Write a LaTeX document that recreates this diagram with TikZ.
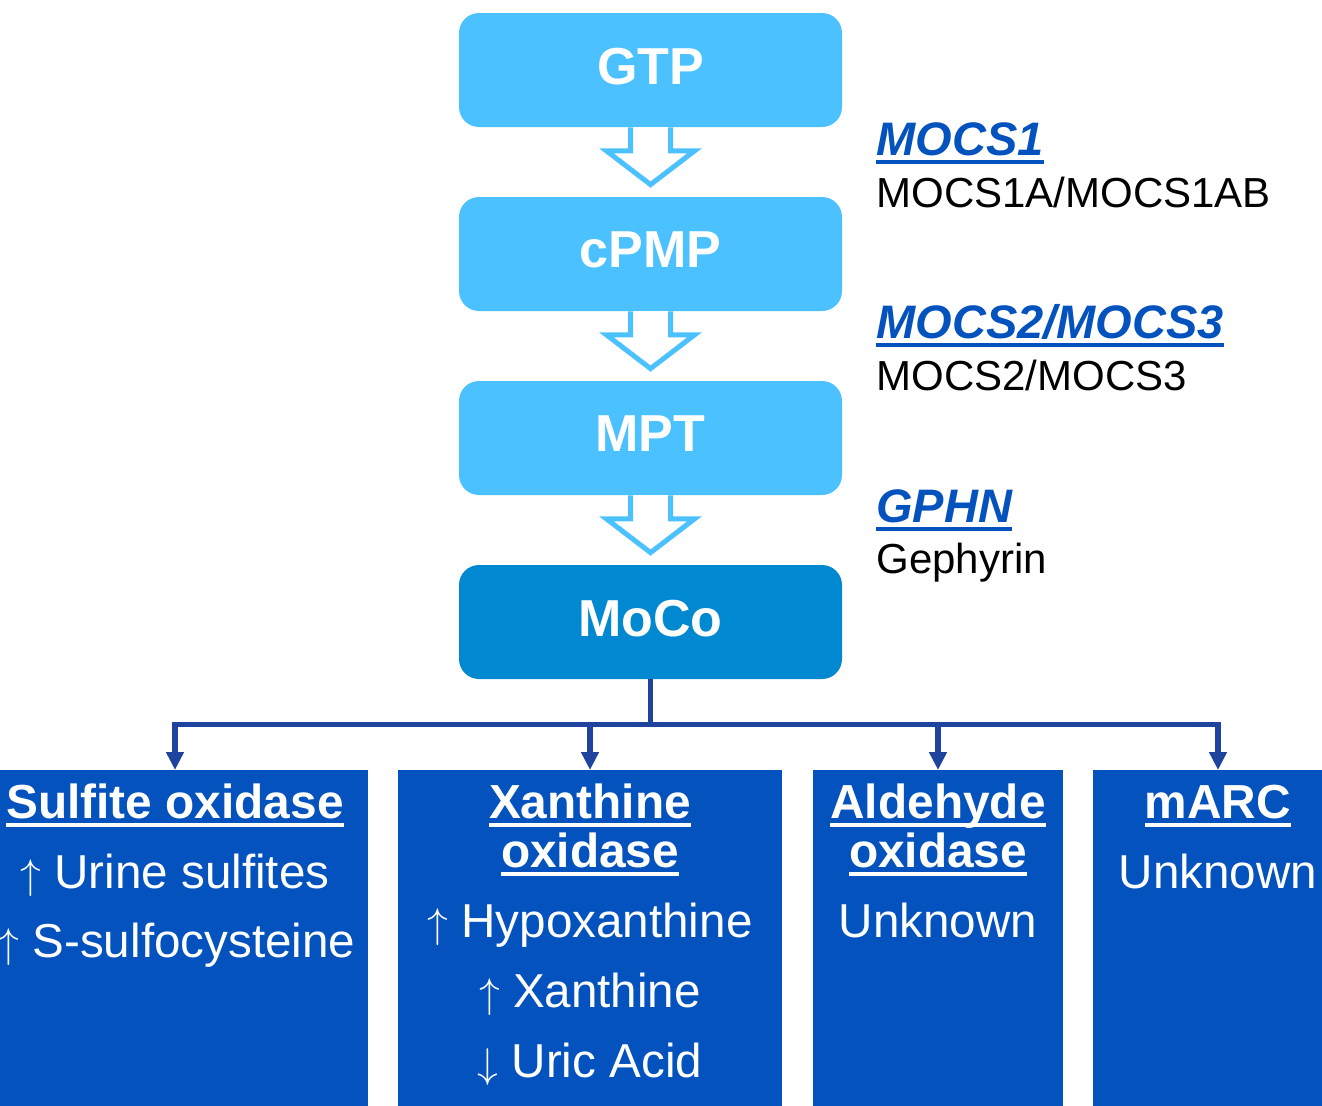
\documentclass[tikz,border=0pt]{standalone}
\usepackage{fontspec}
\setmainfont{Liberation Sans}
\usetikzlibrary{positioning,arrows.meta,calc}

\definecolor{stepblue}{RGB}{75,194,255}
\definecolor{mocoblue}{RGB}{0,137,209}
\definecolor{enzblue}{RGB}{3,82,190}
\definecolor{linkblue}{RGB}{30,68,158}

\newcommand{\undl}[1]{\setbox0\hbox{#1}\makebox[0pt][l]{\raisebox{-4.5pt}{\rule{\wd0}{2pt}}}\box0}
\newcommand{\up}{{\fontsize{20.5}{20.5}\selectfont$\uparrow$}}
\newcommand{\down}{{\fontsize{20.5}{20.5}\selectfont$\downarrow$}}
\newcommand{\hollowarrow}[2]{%
  \filldraw[hollow] ($(#1.south)+(-20,0)$) -- ++(0,23.5) -- ++(-24,0)
    -- ($(#2.north)+(0,-12)$) -- ($(#1.south)+(44,23.5)$) -- ++(-24,0) -- ++(0,-23.5);}

\begin{document}
\begin{tikzpicture}[
  x=0.5pt, y=-0.5pt,
  stepbox/.style={rectangle, rounded corners=10pt, fill=stepblue, text=white, inner sep=0pt,
                  minimum width=191.5pt, minimum height=57pt, text depth=4pt,
                  font=\bfseries\fontsize{26}{31}\selectfont},
  mocobox/.style={stepbox, fill=mocoblue},
  enzbox/.style={rectangle, fill=enzblue, anchor=north, inner sep=0pt, minimum height=170pt},
  enztitle/.style={text=white, anchor=base, inner sep=0pt, font=\bfseries\fontsize{23.9}{24.5}\selectfont},
  enztext/.style={text=white, anchor=base, inner sep=0pt, font=\fontsize{23.8}{24.5}\selectfont},
  gene/.style={anchor=base west, inner sep=0pt, text=enzblue, font=\bfseries\itshape\fontsize{23.5}{23.5}\selectfont},
  protein/.style={anchor=base west, inner sep=0pt, font=\fontsize{21}{21}\selectfont},
  hollow/.style={draw=stepblue, fill=white, line width=2.5pt, line join=miter},
  link/.style={draw=linkblue, line width=2.75pt},
  linkarr/.style={link, -{Triangle[length=9pt,width=8.5pt]}}
]
\useasboundingbox (0,0) rectangle (1322,1105);
\clip (0,0) rectangle (1322,1105);

\node[stepbox] (gtp)  at (650.5,70)  {GTP};
\node[stepbox] (cpmp) at (650.5,254) {cPMP};
\node[stepbox] (mpt)  at (650.5,438) {MPT};
\node[mocobox] (moco) at (650.5,622) {MoCo};

\hollowarrow{gtp}{cpmp}
\hollowarrow{cpmp}{mpt}
\hollowarrow{mpt}{moco}

\node[gene]    (mocsa)  at (876,155) {\undl{MOCS1}};
\node[protein] (mocsap) at (876,207) {MOCS1A/MOCS1AB};
\node[gene]    (mocsb)  at (876,338) {\undl{MOCS2/MOCS3}};
\node[protein] (mocsbp) at (876,390) {MOCS2/MOCS3};
\node[gene]    (gphn)   at (876,522) {\undl{GPHN}};
\node[protein] (gphnp)  at (876,573) {Gephyrin};

\node[enzbox, minimum width=193pt] (sox)  at (175,770)  {};
\node[enzbox, minimum width=192pt] (xo)   at (590,770)  {};
\node[enzbox, minimum width=125pt] (ao)   at (938,770)  {};
\node[enzbox, minimum width=125pt] (marc) at (1218,770) {};

\node[enztitle] (soxt)  at (175,818) {\undl{Sulfite oxidase}};
\node[enztext]  (soxa)  at (175,888) {\up\ Urine sulfites};
\node[enztext]  (soxb)  at (177,957) {\up\ S-sulfocysteine};

\node[enztitle] (xota)  at (590,818)  {\undl{Xanthine}};
\node[enztitle] (xotb)  at (590,867)  {\undl{oxidase}};
\node[enztext]  (xoa)   at (590,937)  {\up\ Hypoxanthine};
\node[enztext]  (xob)   at (590,1007) {\up\ Xanthine};
\node[enztext]  (xoc)   at (590,1077) {\down\ Uric Acid};

\node[enztitle] (aota)  at (938,818) {\undl{Aldehyde}};
\node[enztitle] (aotb)  at (938,867) {\undl{oxidase}};
\node[enztext]  (aoa)   at (938,937) {Unknown};

\node[enztitle] (marct) at (1218,818) {\undl{mARC}};
\node[enztext]  (marca) at (1218,888) {Unknown};

\draw[link] (moco.south) -- ++(0,45) coordinate (hub);
\draw[linkarr] (hub) -| (sox.north);
\draw[linkarr] (hub) -| (xo.north);
\draw[linkarr] (hub) -| (ao.north);
\draw[linkarr] (hub) -| (marc.north);
\end{tikzpicture}
\end{document}
